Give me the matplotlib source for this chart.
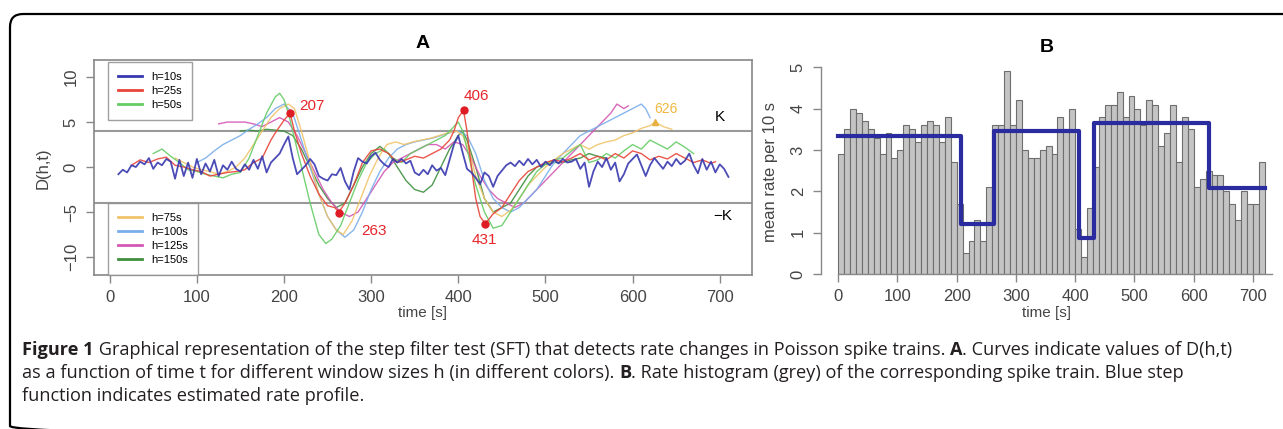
import matplotlib.pyplot as plt
from matplotlib.patches import FancyBboxPatch
from matplotlib.lines import Line2D
import numpy as np

plt.rcParams['font.family'] = ['Liberation Sans', 'DejaVu Sans']

W, H = 1283, 429

# ---- panel A: D(h,t) curves, one per window size ----
t_h10 = np.arange(10, 715, 5)
d_h10 = [-0.8, -0.3, -0.6, 0.2, 0.0, 0.6, 0.3, 1.0, -0.2, 0.5, 0.2, 0.9, 0.6, -1.3, 0.8, -1.0,
         0.5, -1.2, 0.9, -0.8, 0.4, -0.5, 0.8, -1.0, 0.2, -0.3, 0.6, -0.2, -0.5, 0.3, -0.3, 0.8,
         -0.2, 1.2, -0.6, 0.5, 1.0, 1.5, 2.5, 3.4, 1.0, -0.8, -0.3, 0.2, 0.9, 0.3, -1.0, -1.3,
         -1.5, -0.8, -0.9, -0.1, -1.6, -2.5, -0.5, 1.0, 0.6, 0.4, 1.2, 1.6, 0.8, 0.3, 0.0, 0.9,
         0.5, 0.9, 0.4, 0.7, -0.6, -0.9, -0.3, -0.8, 0.2, -0.4, -0.1, -0.9, 0.8, 2.5, 3.5, 1.6,
         -0.2, -0.6, -1.2, -1.9, -0.6, -1.0, -2.2, -1.0, -0.4, 0.2, 0.5, 0.1, 0.7, 0.2, 0.9, 0.3,
         0.8, 0.0, 0.6, 0.2, 0.8, 0.4, 0.9, 0.5, 0.6, 0.9, -0.2, 0.5, -2.2, -0.5, 0.6, 0.0,
         1.0, -0.3, 0.5, -1.6, -0.8, 0.4, 0.9, 1.4, 0.2, -1.0, 0.2, 1.0, 0.4, -0.2, 0.6, 0.1,
         0.9, 0.3, 0.7, 1.5, 0.2, -0.7, 0.9, -0.3, 0.6, -0.6, 0.3, -0.2, -1.1]

t_h25 = [25, 35, 45, 55, 65, 75, 85, 95, 105, 115, 125, 135, 145, 155, 165, 175, 180, 185, 190,
         195, 200, 207, 212, 220, 230, 240, 250, 258, 263, 270, 280, 290, 300, 310, 320, 330, 340,
         350, 360, 370, 380, 390, 395, 400, 406, 410, 415, 420, 425, 431, 440, 450, 460, 470, 480,
         490, 500, 510, 520, 530, 540, 550, 560, 570, 580, 590, 600, 610, 620, 630, 640, 650, 660,
         670, 680, 690, 695]
d_h25 = [0.2, 0.8, 0.5, 0.9, 1.1, 0.2, 0.0, -0.3, -0.5, -1.0, -0.8, -0.6, -0.5, -0.3, 0.5, 1.0,
         2.0, 3.0, 3.8, 4.5, 5.2, 6.0, 4.0, 1.5, -1.0, -3.0, -4.3, -4.5, -5.0, -4.0, -2.0, 0.5, 1.8,
         2.0, 1.5, 0.5, 0.8, 1.2, 1.0, 1.5, 2.0, 3.0, 4.0, 5.5, 6.3, 4.0, 0.0, -3.5, -5.5, -6.3,
         -5.2, -4.5, -3.0, -1.5, -0.5, 0.0, 0.5, 0.8, 0.6, 1.0, 1.5, 0.8, 1.2, 0.8, 1.5, 1.0, 1.8,
         1.5, 0.8, 1.2, 0.9, 1.5, 1.0, 0.5, 0.8, 0.4, 0.6]

t_h50 = [50, 60, 70, 80, 90, 100, 110, 120, 130, 140, 150, 160, 170, 180, 190, 195, 200, 205, 210,
         220, 230, 240, 248, 255, 265, 275, 285, 295, 305, 315, 325, 335, 345, 355, 365, 375, 385,
         395, 400, 405, 410, 420, 430, 440, 450, 460, 470, 480, 490, 500, 510, 520, 530, 540, 550,
         560, 570, 580, 590, 600, 610, 620, 630, 640, 650, 660, 670]
d_h50 = [1.5, 2.0, 1.2, 0.5, -0.3, -0.5, -0.8, -1.0, -1.2, -0.8, -0.6, 1.0, 3.5, 6.0, 7.8, 8.2,
         7.5, 6.0, 4.0, 0.0, -4.0, -7.5, -8.5, -8.0, -6.5, -4.0, -1.5, 0.5, 1.5, 2.0, 1.0, 0.5, 1.5,
         2.0, 2.5, 3.0, 3.5, 4.5, 5.0, 4.0, 2.0, -2.0, -5.0, -6.8, -6.5, -5.0, -3.5, -2.0, -0.5,
         0.3, 0.8, 1.0, 1.8, 2.5, 0.5, 0.8, 1.5, 1.0, 1.8, 2.5, 2.0, 3.0, 2.5, 2.0, 2.8, 2.2, 1.5]

t_h75 = [75, 85, 95, 105, 115, 125, 135, 145, 155, 165, 175, 185, 195, 205, 212, 220, 230, 240,
         250, 260, 268, 278, 288, 298, 308, 318, 328, 338, 348, 358, 368, 378, 388, 398, 405, 412,
         420, 430, 440, 450, 460, 470, 480, 490, 500, 510, 520, 530, 540, 550, 560, 570, 580, 590,
         600, 610, 620, 626, 635, 645]
d_h75 = [1.0, 0.5, 0.0, -0.3, -0.5, -0.8, -0.5, 0.0, 1.0, 2.5, 4.0, 5.5, 6.5, 7.0, 6.5, 4.0, 0.5,
         -3.0, -5.5, -7.0, -7.5, -6.0, -3.5, -1.0, 1.0, 2.5, 2.8, 2.5, 2.8, 3.0, 3.2, 3.5, 3.8, 4.0,
         3.5, 2.0, -1.0, -3.5, -5.0, -5.5, -4.8, -3.5, -2.0, -1.0, 0.0, 0.8, 1.5, 2.0, 2.5, 2.0,
         2.5, 2.8, 3.0, 3.5, 3.8, 4.3, 4.6, 5.0, 4.5, 4.2]

t_h100 = [100, 110, 120, 130, 140, 150, 160, 170, 180, 190, 200, 210, 220, 230, 240, 250, 260, 270,
          280, 290, 300, 310, 320, 330, 340, 350, 360, 370, 380, 390, 400, 410, 420, 430, 440, 450,
          460, 470, 480, 490, 500, 510, 520, 530, 540, 550, 560, 570, 580, 590, 600, 610, 615, 620]
d_h100 = [0.5, 1.0, 1.8, 2.5, 3.0, 3.5, 4.2, 4.8, 5.5, 6.5, 7.0, 6.0, 3.0, 0.0, -3.0, -5.5, -7.0,
          -7.8, -7.0, -5.0, -2.5, -0.5, 1.0, 2.0, 2.5, 2.8, 3.0, 3.2, 3.5, 3.8, 4.0, 3.5, 1.5, -1.5,
          -3.5, -4.5, -5.0, -4.5, -3.5, -2.5, -1.0, 0.5, 1.5, 2.5, 3.5, 4.0, 4.5, 5.0, 5.5, 6.0,
          6.5, 7.0, 6.5, 5.5]

t_h125 = [125, 135, 145, 155, 165, 175, 185, 195, 205, 215, 225, 235, 245, 255, 265, 275, 285, 295,
          305, 315, 325, 335, 345, 355, 365, 375, 385, 395, 405, 415, 425, 435, 445, 455, 465, 475,
          485, 495, 505, 515, 525, 535, 545, 555, 565, 575, 582, 590, 595]
d_h125 = [4.8, 5.0, 5.0, 5.0, 4.8, 4.5, 5.0, 5.5, 5.0, 3.5, 1.5, -0.5, -2.5, -4.0, -5.0, -5.5,
          -5.0, -3.5, -2.0, -0.5, 0.5, 1.0, 1.5, 2.0, 2.5, 2.5, 2.0, 2.8, 2.5, 1.0, -1.0, -2.5, -3.5,
          -4.0, -4.5, -4.0, -3.0, -2.0, -1.0, 0.0, 1.0, 2.0, 3.0, 4.0, 5.0, 6.0, 7.0, 6.5, 6.8]

t_h150 = [150, 160, 170, 180, 190, 200, 210, 220, 230, 240, 250, 260, 270, 280, 290, 300, 310, 320,
          330, 340, 350, 360, 370, 380, 390, 400, 405, 410, 420, 430, 440, 450, 460, 470, 480, 490,
          500, 510, 520, 530, 540, 550, 560, 570]
d_h150 = [4.0, 4.1, 4.0, 4.2, 4.1, 4.0, 3.5, 2.0, 0.0, -2.0, -3.5, -4.5, -4.0, -2.0, 0.0, 1.5, 2.3,
          1.5, 0.0, -1.5, -2.5, -2.8, -2.0, 0.0, 2.0, 3.5, 4.0, 3.0, 0.0, -3.5, -5.0, -4.5, -4.0,
          -2.5, -1.0, 0.0, 0.3, 0.5, 0.5, 0.8, 1.0, 1.5, 1.2, 1.0]

K = 4.05
det_t = [207, 263, 406, 431]
det_d = [6.0, -5.1, 6.3, -6.3]
det_lab = ['207', '263', '406', '431']
late_t, late_d, late_lab = 626, 5.0, '626'

# ---- panel B: rate histogram + step fit ----
bin_left = np.arange(0, 720, 10)
rates = [2.9, 3.5, 4.0, 3.9, 3.7, 3.5, 3.3, 2.9, 3.4, 2.8, 3.0, 3.6, 3.5, 3.2, 3.6, 3.7, 3.6, 3.2,
         3.8, 2.7, 1.7, 0.5, 0.8, 1.3, 0.8, 2.1, 3.6, 3.6, 4.9, 3.6, 4.2, 3.0, 2.8, 2.8, 3.0, 3.1,
         2.9, 3.8, 3.5, 4.0, 1.1, 0.4, 1.6, 2.6, 3.8, 4.1, 4.1, 4.4, 3.8, 4.3, 4.0, 3.6, 4.2, 4.1,
         3.1, 3.4, 4.1, 2.7, 3.8, 3.5, 2.1, 2.3, 2.5, 2.4, 2.4, 2.0, 1.7, 1.3, 2.0, 1.7, 1.7, 2.7]
step_t = [0, 207, 263, 406, 431, 626, 720]
step_v = [3.35, 1.2, 3.45, 0.88, 3.65, 2.07, 2.07]

curves = [
    ('h=150s', t_h150, d_h150, '#3f8f3f'),
    ('h=125s', t_h125, d_h125, '#d457b5'),
    ('h=100s', t_h100, d_h100, '#7aaeea'),
    ('h=75s', t_h75, d_h75, '#f0c46a'),
    ('h=50s', t_h50, d_h50, '#66cc66'),
    ('h=25s', t_h25, d_h25, '#e8453a'),
    ('h=10s', t_h10, d_h10, '#3838b0'),
]

fig = plt.figure(figsize=(W / 100, H / 100), dpi=100)

# background axes in pixel coords for frame and caption
bg = fig.add_axes([0, 0, 1, 1], zorder=-1)
bg.set_xlim(0, W)
bg.set_ylim(H, 0)
bg.axis('off')
bg.add_patch(FancyBboxPatch((10, 14), 1300, 425, boxstyle='round,pad=0,rounding_size=13',
                            fill=False, lw=1.6, ec='black'))

grey = '#888888'
tcol = '#444444'

axA = fig.add_axes([94 / W, (H - 275) / H, 658 / W, 215 / H])
lines = {}
for lab, tt, dd, c in curves:
    lw = 1.3 if lab == 'h=10s' else 1.0
    ln, = axA.plot(tt, dd, color=c, lw=lw, alpha=0.9)
    lines[lab] = ln
axA.axhline(K, color='#999999', lw=1.5, zorder=0)
axA.axhline(-K, color='#999999', lw=1.5, zorder=0)
axA.plot(det_t, det_d, 'o', color='#dd1c24', ms=5)
offs = [(22, 7), (35, -18), (13, 14), (-1, -16)]
for tx, dy, lab, o in zip(det_t, det_d, det_lab, offs):
    axA.annotate(lab, (tx, dy), xytext=o, textcoords='offset pixels', ha='center', va='center',
                 color='#e8252a', fontsize=11)
axA.plot([late_t], [late_d], '^', color='#e8b040', ms=4)
axA.annotate(late_lab, (late_t, late_d), xytext=(11, 13), textcoords='offset pixels',
             ha='center', va='center', color='#f0b840', fontsize=10)
axA.text(700, 5.6, 'K', ha='center', va='center', fontsize=11)
axA.text(703, -5.4, '\u2212K', ha='center', va='center', fontsize=11)

axA.set_xlim(-18, 737)
axA.set_ylim(-12, 11.9)
axA.set_xticks(range(0, 701, 100))
axA.set_yticks([-10, -5, 0, 5, 10])
for s in axA.spines.values():
    s.set_color(grey)
    s.set_linewidth(1.2)
axA.tick_params(direction='out', length=6, width=1, color=grey, labelcolor=tcol, labelsize=12, pad=5)
axA.tick_params(axis='y', labelrotation=90)
for lbl in axA.get_yticklabels():
    lbl.set_va('center')

leg_kw = dict(frameon=True, fancybox=False, edgecolor=grey, fontsize=8, handlelength=2.2,
              handletextpad=0.8, labelspacing=0.35, borderpad=0.9, borderaxespad=0)
up = ['h=10s', 'h=25s', 'h=50s']
lo = ['h=75s', 'h=100s', 'h=125s', 'h=150s']
hu = [Line2D([], [], color=lines[k].get_color(), lw=2) for k in up]
hl = [Line2D([], [], color=lines[k].get_color(), lw=2) for k in lo]
l1 = axA.legend(hu, up, loc='upper left', bbox_to_anchor=(0.021, 0.99), **leg_kw)
l1.get_frame().set_linewidth(1.0)
axA.add_artist(l1)
l2 = axA.legend(hl, lo, loc='lower left', bbox_to_anchor=(0.021, 0.0), **leg_kw)
l2.get_frame().set_linewidth(1.0)

axB = fig.add_axes([821 / W, (H - 274) / H, 461 / W, 217 / H])
axB.bar(bin_left, rates, width=10, align='edge', color='#c4c4c4', edgecolor='#6e6e6e', lw=0.8)
axB.step(step_t, step_v, where='post', color='#2b2ba0', lw=3)
axB.set_xlim(-28.8, 748.8)
axB.set_ylim(0, 5.25)
axB.set_xticks(range(0, 701, 100))
axB.set_yticks(range(0, 6))
axB.spines['top'].set_visible(False)
axB.spines['right'].set_visible(False)
axB.spines['left'].set_bounds(0, 5)
axB.spines['bottom'].set_bounds(0, 732)
for s in axB.spines.values():
    s.set_color(grey)
    s.set_linewidth(1.0)
axB.tick_params(direction='out', length=6, width=1, color=grey, labelcolor=tcol, labelsize=12, pad=5)
axB.tick_params(axis='y', labelrotation=90)
for lbl in axB.get_yticklabels():
    lbl.set_va('center')

# titles and axis labels
bg.text(423, 43, 'A', ha='center', va='center', fontsize=14, fontweight='bold')
bg.text(1047, 47, 'B', ha='center', va='center', fontsize=14, fontweight='bold')
bg.text(43, 168, 'D(h,t)', ha='center', va='center', rotation=90, fontsize=12, color=tcol)
bg.text(770, 172, 'mean rate per 10 s', ha='center', va='center', rotation=90, fontsize=12, color=tcol)
bg.text(423, 313, 'time [s]', ha='center', va='center', fontsize=11, color=tcol)
bg.text(1047, 313, 'time [s]', ha='center', va='center', fontsize=11, color=tcol)

# caption with bold fragments
cap = [
    [('Figure 1', True), (' Graphical representation of the step filter test (SFT) that detects rate '
                          'changes in Poisson spike trains. ', False), ('A', True),
     ('. Curves indicate values of D(h,t)', False)],
    [('as a function of time t for different window sizes h (in different colors). ', False),
     ('B', True), ('. Rate histogram (grey) of the corresponding spike train. Blue step', False)],
    [('function indicates estimated rate profile.', False)],
]
fig.canvas.draw()
r = fig.canvas.get_renderer()
for i, line in enumerate(cap):
    x = 22
    y = 355 + 23 * i
    for s, b in line:
        t = bg.text(x, y, s, ha='left', va='baseline', fontsize=13.1,
                    family=['Open Sans', 'DejaVu Sans'], fontweight='bold' if b else 'normal',
                    color='#231f20')
        x += t.get_window_extent(r).width

fig.savefig('out.png', dpi=100)
